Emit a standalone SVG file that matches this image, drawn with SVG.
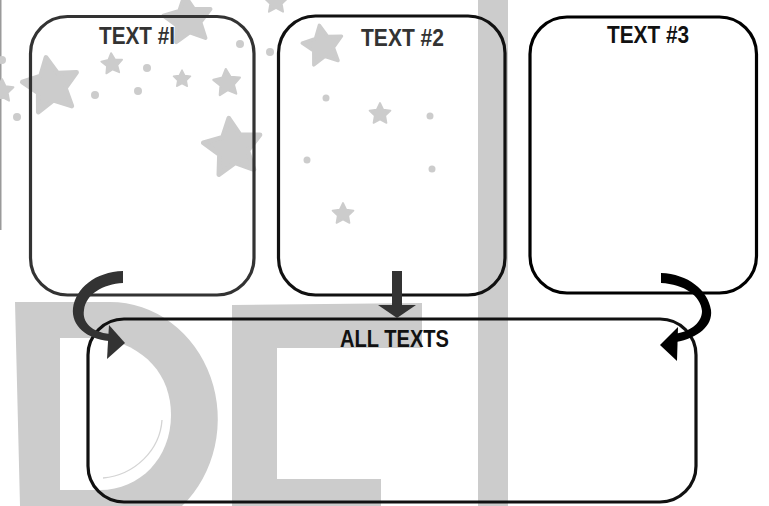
<svg xmlns="http://www.w3.org/2000/svg" xmlns:xlink="http://www.w3.org/1999/xlink" width="769" height="506" viewBox="0 0 769 506">
<style>
.wm{fill:#cccccc}
.star{fill:#cccccc;stroke:#cccccc;stroke-width:1.6;stroke-linejoin:round}
.box{fill:none;stroke-width:3.2}
.lbl{font-family:"Liberation Sans",Arial,sans-serif;font-weight:bold;font-size:24px}
</style>
<defs>
<path id="st" d="M0,-10 L2.94,-4.05 L9.51,-3.09 L4.76,1.55 L5.88,8.09 L0,5 L-5.88,8.09 L-4.76,1.55 L-9.51,-3.09 L-2.94,-4.05 Z"/>
</defs>
<rect x="0" y="0" width="769" height="506" fill="#ffffff"/>
<g id="watermark">
  <rect x="0" y="0" width="1.5" height="230" fill="#9a9a9a"/>
  <path class="wm" d="M15,302 L110,302 A108,117 0 0 1 182,506 L20,506 Z"/>
  <path fill="#ffffff" d="M60,338 L100,338 C145,345 171,375 171,415 C171,458 140,490 100,490 L60,490 Z"/>
  <path d="M162,420 C160,450 135,475 103,478" fill="none" stroke="#d4d4d4" stroke-width="1.3"/>
  <path class="wm" d="M232,305 L422,303 L422,348 L277,348 L277,479 L381,479 L381,506 L232,506 Z"/>
  <rect class="wm" x="478" y="0" width="30" height="506"/>
  <g class="stars">
    <use xlink:href="#st" class="star" transform="translate(188,20) rotate(-8) scale(2.5)"/>
    <use xlink:href="#st" class="star" transform="translate(51,86) rotate(-10) scale(2.9)"/>
    <use xlink:href="#st" class="star" transform="translate(112,64) rotate(-5) scale(1.1)"/>
    <use xlink:href="#st" class="star" transform="translate(182,79) scale(0.9)"/>
    <use xlink:href="#st" class="star" transform="translate(227,83) rotate(-5) scale(1.4)"/>
    <use xlink:href="#st" class="star" transform="translate(233,148) rotate(-8) scale(3)"/>
    <use xlink:href="#st" class="star" transform="translate(323,46) rotate(-10) scale(2.1)"/>
    <use xlink:href="#st" class="star" transform="translate(380,114) scale(1.1)"/>
    <use xlink:href="#st" class="star" transform="translate(343,214) scale(1.1)"/>
    <use xlink:href="#st" class="star" transform="translate(276,2) scale(1.2)"/>
    <use xlink:href="#st" class="star" transform="translate(2,91) scale(1.2)"/>
  </g>
  <g class="wm">
    <circle cx="147" cy="68" r="4"/>
    <circle cx="95" cy="95" r="4"/>
    <circle cx="138" cy="91" r="4"/>
    <circle cx="240" cy="44" r="4"/>
    <circle cx="17" cy="117" r="4"/>
    <circle cx="270" cy="52" r="4"/>
    <circle cx="326" cy="98" r="3.5"/>
    <circle cx="430" cy="116" r="3.5"/>
    <circle cx="307" cy="160" r="3.5"/>
    <circle cx="432" cy="169" r="3.5"/>
    <circle cx="2" cy="60" r="4"/>
  </g>
</g>
<g id="node-text1">
  <rect class="box" x="30.5" y="16.5" width="223.5" height="278.5" rx="37" stroke="#333333"/>
  <text class="lbl" x="99" y="44" textLength="76" lengthAdjust="spacingAndGlyphs" fill="#333333">TEXT #I</text>
</g>
<g id="node-text2">
  <rect class="box" x="278.5" y="16" width="226.5" height="279" rx="37" stroke="#111111"/>
  <text class="lbl" x="361" y="46" textLength="83" lengthAdjust="spacingAndGlyphs" fill="#333333">TEXT #2</text>
</g>
<g id="node-text3">
  <rect class="box" x="530" y="17" width="226.5" height="276" rx="37" stroke="#000000"/>
  <text class="lbl" x="607" y="43" textLength="82" lengthAdjust="spacingAndGlyphs" fill="#111111">TEXT #3</text>
</g>
<g id="node-all">
  <rect class="box" x="88" y="319" width="608" height="183" rx="36" stroke="#111111"/>
  <text class="lbl" x="340" y="347" textLength="109" lengthAdjust="spacingAndGlyphs" fill="#111111">ALL TEXTS</text>
</g>
<g id="connectors">
  <g fill="#333333">
    <path d="M123,271 C95,272 76,288 73,308 C71,326 87,339 109,341 L110,334 C91,332 82,322 84,310 C86,294 103,284 123,283 Z"/>
    <polygon points="109,325 125,343 107,359"/>
  </g>
  <g fill="#333333">
    <rect x="392" y="271" width="10" height="35"/>
    <polygon points="378,305 416,305 397,318"/>
  </g>
  <g fill="#000000">
    <path d="M661,273 C688,274 708,290 711,310 C713,326 698,338 676,342 L675,334 C692,331 702,322 702,311 C701,296 684,284 661,283 Z"/>
    <polygon points="678,327 660,345 677,361"/>
  </g>
</g>
</svg>
